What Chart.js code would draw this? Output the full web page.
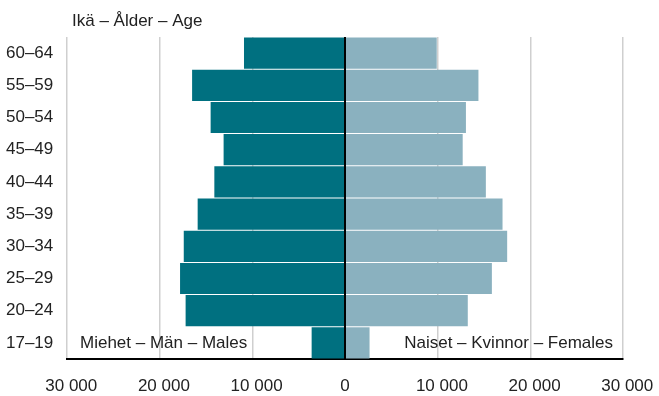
<!DOCTYPE html>
<html>
<head>
<meta charset="utf-8">
<script src="https://cdn.jsdelivr.net/npm/chart.js@4/dist/chart.umd.min.js"></script>
<style>
  html, body { margin: 0; padding: 0; background: #fff; }
  #wrap { width: 659px; height: 396px; }
</style>
</head>
<body>
<div id="wrap"><canvas id="pyramid"></canvas></div>
<script>
// Age groups, top to bottom
const ageGroups = ['60–64', '55–59', '50–54', '45–49', '40–44', '35–39', '30–34', '25–29', '20–24', '17–19'];
// Males (drawn to the left, so negative)
const males = [10900, 16500, 14500, 13100, 14100, 15900, 17400, 17800, 17200, 3600];
// Females
const females = [9900, 14400, 13050, 12700, 15200, 17000, 17500, 15850, 13250, 2650];
const xTicks = [-30000, -20000, -10000, 0, 10000, 20000, 30000];

const maleColor = 'rgb(0, 112, 128)';
const femaleColor = 'rgb(138, 177, 191)';
const textColor = '#222';
const fontFamily = '"Liberation Sans", Arial, Helvetica, sans-serif';

Chart.defaults.font.family = fontFamily;
Chart.defaults.font.size = 17;
Chart.defaults.color = textColor;

// 30000 -> "30 000", with a small lead so the labels sit like the original
function fmt(v) {
  if (v === 0) return '0';
  return '\u2002' + Math.abs(v).toLocaleString('en-US').replace(/,/g, ' ');
}

// Title, series labels and the centre line
const extras = {
  id: 'extras',
  afterDatasetsDraw(chart) {
    const ctx = chart.ctx;
    const area = chart.chartArea;
    const x = chart.scales.x;
    const y = chart.scales.y;
    const x0 = x.getPixelForValue(0);

    ctx.save();
    ctx.strokeStyle = '#000';
    ctx.lineWidth = 2;
    ctx.beginPath();
    ctx.moveTo(x0, area.top);
    ctx.lineTo(x0, area.bottom);
    ctx.stroke();

    ctx.fillStyle = textColor;
    ctx.font = '17px ' + fontFamily;
    ctx.textBaseline = 'middle';
    ctx.textAlign = 'left';
    ctx.fillText('Ikä – Ålder – Age', 72, 21);

    const lastY = y.getPixelForValue(ageGroups.length - 1);
    ctx.fillText('Miehet – Män – Males', area.left + 13, lastY);
    ctx.textAlign = 'right';
    ctx.fillText('Naiset – Kvinnor – Females', area.right - 10, lastY);
    ctx.restore();
  }
};

const data = {
  labels: ageGroups,
  datasets: [{
    label: 'Miehet – Män – Males',
    data: males.map(v => -v),
    backgroundColor: maleColor,
    barPercentage: 0.97,
    categoryPercentage: 1
  }, {
    label: 'Naiset – Kvinnor – Females',
    data: females,
    backgroundColor: femaleColor,
    barPercentage: 0.97,
    categoryPercentage: 1
  }]
};

const config = {
  type: 'bar',
  data: data,
  options: {
    indexAxis: 'y',
    responsive: true,
    maintainAspectRatio: false,
    animation: false,
    layout: {
      padding: { left: 6, top: 37, right: 36, bottom: 0 }
    },
    plugins: {
      legend: { display: false },
      tooltip: { enabled: false }
    },
    scales: {
      x: {
        stacked: true,
        min: -30000,
        max: 30000,
        afterBuildTicks(scale) {
          scale.ticks = xTicks.map(v => ({ value: v }));
        },
        afterFit(scale) {
          scale.height = 37;
          scale.paddingLeft = 0;
          scale.paddingRight = 0;
        },
        grid: {
          color: '#cfcfcf',
          lineWidth: 1.5,
          drawTicks: false
        },
        border: { display: true, color: '#000', width: 2 },
        ticks: {
          padding: 17,
          maxRotation: 0,
          color: textColor,
          callback: v => fmt(v)
        }
      },
      y: {
        stacked: true,
        afterFit(scale) {
          scale.width = 61;
        },
        grid: { display: false, drawTicks: false },
        border: { display: false },
        ticks: {
          crossAlign: 'far',
          color: textColor
        }
      }
    }
  },
  plugins: [extras]
};

const pyramidChart = new Chart(document.getElementById('pyramid'), config);
</script>
</body>
</html>
